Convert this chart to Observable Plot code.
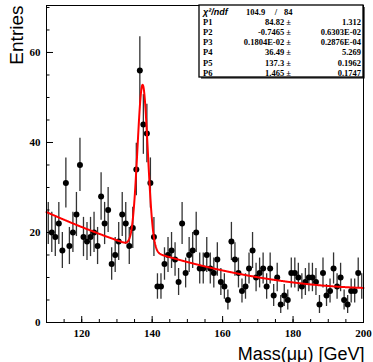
<!DOCTYPE html>
<html><head><meta charset="utf-8">
<script src="https://cdn.jsdelivr.net/npm/d3@7"></script>
<script src="https://cdn.jsdelivr.net/npm/@observablehq/plot@0.6"></script>
<style>html,body{margin:0;padding:0;background:#fff;}</style>
</head><body><div id="chart"></div>
<script>
// Histogram: 90 bins of 1 GeV from 110 to 200 GeV
const binLow = 110;
const binWidth = 1;
const counts = [
  22, 20, 19, 22, 16, 31, 17, 20, 24, 35,
  19, 18, 19, 20, 17, 28, 22, 25, 13, 15,
  18, 24, 22, 17, 21, 34, 56, 44, 42, 31,
  19,  8,  8, 13, 15, 16, 14,  9, 22, 11,
  15, 16, 20, 12, 12, 15, 12, 11, 14,  9,
   8,  5, 18, 14, 11,  7,  8, 12, 16, 10,
  11, 12,  8, 12,  6, 10,  4,  6,  5, 11,
  11, 10,  8,  9, 10, 10,  9,  4, 11,  6,
   7, 12,  8, 10,  5,  4,  7,  7, 11,  8
];
// Fit: P1 + P2*x + P3*x^2 + P4*gaus(P5, P6)
const fitParams = [84.82, -0.7465, 0.1804e-2, 36.49, 137.3, 1.465];
const paramNames = ["P1", "P2", "P3", "P4", "P5", "P6"];
const paramValueText = ["84.82", "-0.7465", "0.1804E-02", "36.49", "137.3", "1.465"];
const paramErrorText = ["1.312", "0.6303E-02", "0.2876E-04", "5.269", "0.1962", "0.1747"];
const chi2Text = "104.9";
const ndfText = "84";
const xMajorTicks = [120, 140, 160, 180, 200];
const xMinorTicks = d3.range(110, 201, 5);
const yMajorTicks = [0, 20, 40, 60];
const yMinorTicks = d3.range(0, 71, 5);
const xTitle = "Mass(\u03bc\u03bc) [GeV]";
const yTitle = "Entries";

const bins = counts.map((c, i) => ({
  i, x: binLow + (i + 0.5) * binWidth, y: c,
  lo: c - Math.sqrt(c), hi: c + Math.sqrt(c)
}));
const fitFn = (x) => {
  const [a, b, c, amp, mu, s] = fitParams;
  return a + b * x + c * x * x + amp * Math.exp(-0.5 * ((x - mu) / s) ** 2);
};
const fitCurve = d3.range(110, 200.0001, 0.1).map(x => ({x, y: fitFn(x)}));

const serif = "'Liberation Serif', 'Times New Roman', serif";
const sans = "'Liberation Sans', Arial, Helvetica, sans-serif";

function statsBox(index, scales, values, dims) {
  const right = dims.width - dims.marginRight;
  const top = dims.marginTop;
  const w = 164, h = 72;
  const left = right - w;
  const g = d3.create("svg:g");
  g.append("rect").attr("x", left).attr("y", top).attr("width", w).attr("height", h)
    .attr("fill", "white").attr("stroke", "black").attr("stroke-width", 1.3);
  g.append("path").attr("d", `M${left + 2},${top + h + 0.8}H${right + 1}V${top + 2}`)
    .attr("fill", "none").attr("stroke", "black").attr("stroke-width", 1.2);
  const rowH = 10.1, base0 = top + 10;
  const t = (x, y, s, anchor, opts = {}) => g.append("text").attr("x", x).attr("y", y)
    .attr("text-anchor", anchor).attr("font-family", opts.family || serif)
    .attr("font-weight", "bold").attr("font-style", opts.style || "normal")
    .attr("font-size", opts.size || 8.5).text(s);
  t(left + 4, base0, "\u03c7\u00b2/ndf", "start", {family: sans, style: "italic", size: 9});
  t(left + 47, base0, chi2Text, "start");
  t(left + 77, base0, "/", "middle");
  t(left + 85, base0, ndfText, "start");
  paramNames.forEach((p, k) => {
    const y = base0 + rowH * (k + 1);
    t(left + 4, y, p, "start");
    t(left + 92, y, paramValueText[k] + " \u00b1", "end");
    t(right - 2, y, paramErrorText[k], "end");
  });
  return g.node();
}

const chart = Plot.plot({
  width: 373, height: 362,
  marginLeft: 46, marginRight: 10, marginTop: 5, marginBottom: 40,
  x: {domain: [110, 200]},
  y: {domain: [0, 70.44]},
  style: {background: "white"},
  marks: [
    Plot.ruleX(bins, {x: "x", y1: "lo", y2: "hi", stroke: "#333", strokeWidth: 1.3}),
    Plot.dot(bins.filter(d => d.i > 0 && d.i < counts.length - 1), {x: "x", y: "y", r: 3, fill: "black", stroke: "none"}),
    Plot.line(fitCurve, {x: "x", y: "y", stroke: "#ff0000", strokeWidth: 2}),
    Plot.frame({stroke: "black", strokeWidth: 1}),
    Plot.axisX({ticks: xMinorTicks, tickSize: -3, text: null, label: null}),
    Plot.axisX({ticks: xMajorTicks, tickSize: -6, text: null, label: null}),
    Plot.axisX({ticks: xMajorTicks, tickSize: 0, tickPadding: 7, label: null, tickFormat: d => String(d),
      fontSize: 11, fontWeight: "bold", fontFamily: serif}),
    Plot.axisY({ticks: yMinorTicks, tickSize: -3.5, text: null, label: null}),
    Plot.axisY({ticks: yMajorTicks, tickSize: 0, tickPadding: 6, label: null, tickFormat: d => String(d),
      fontSize: 11, fontWeight: "bold", fontFamily: serif}),
    Plot.axisY({ticks: yMajorTicks, tickSize: -7, text: null, label: null}),
    Plot.text([xTitle], {frameAnchor: "bottom-right", dx: 1, dy: 37, textAnchor: "end", lineAnchor: "bottom",
      fontSize: 18, fontFamily: sans, fill: "black"}),
    Plot.text([yTitle], {frameAnchor: "top-left", dx: -24, dy: 0, rotate: -90, textAnchor: "end", lineAnchor: "bottom",
      fontSize: 19, fontFamily: sans, fill: "black"}),
    statsBox
  ]
});
document.getElementById("chart").append(chart);
</script>
</body></html>
